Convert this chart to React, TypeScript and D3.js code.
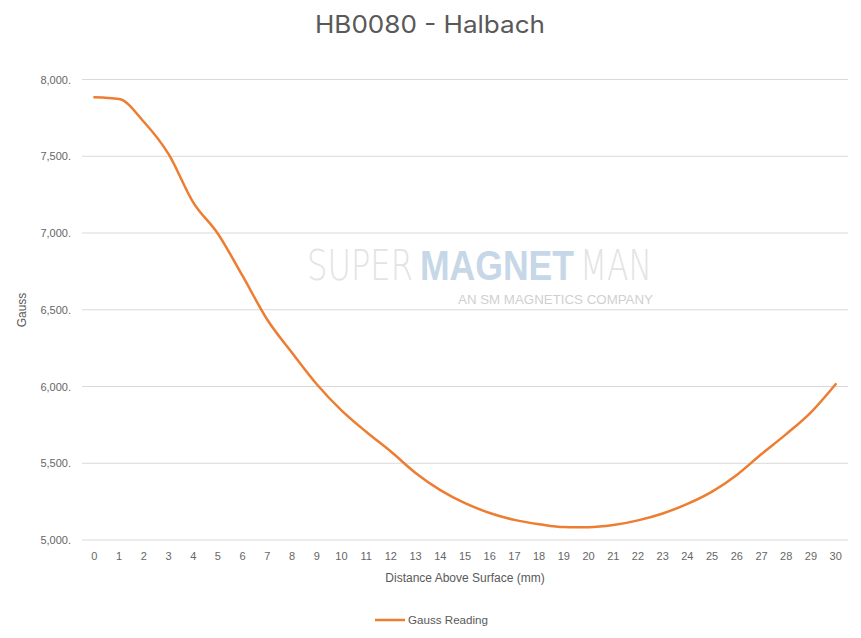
import React, { useLayoutEffect, useRef, useState } from "react";
import * as d3 from "d3";

const distances: number[] = Array.from({ length: 31 }, (_, i) => i);
const gaussValues: number[] = [
  7884, 7873, 7725, 7515, 7200, 6995, 6720, 6435, 6220, 6015,
  5845, 5705, 5576, 5437, 5325, 5240, 5176, 5131, 5103, 5084,
  5083, 5097, 5128, 5173, 5235, 5315, 5424, 5560, 5690, 5832,
  6015,
];
const yTicks: number[] = [5000, 5500, 6000, 6500, 7000, 7500, 8000];
const watermarkWords: string[] = ["SUPER", "MAGNET", "MAN"];

const W = 861;
const H = 638;
const M = { left: 82, right: 13, top: 79.5, bottom: 98 };
const FONT = "'Liberation Sans', Arial, sans-serif";

const wmSpec = [
  { x: 307, w: 106, fill: "#e3e3e3", weight: 200 as any, family: "'DejaVu Sans', sans-serif" },
  { x: 420, w: 154, fill: "#c6d7e7", weight: "bold" as any, family: "'Liberation Sans', sans-serif" },
  { x: 580, w: 72, fill: "#e3e3e3", weight: 200 as any, family: "'DejaVu Sans', sans-serif" },
];

export default function App() {
  const refs = useRef<(SVGTextElement | null)[]>([]);
  const [scales, setScales] = useState<number[]>([0.78, 0.85, 0.77]);
  useLayoutEffect(() => {
    const s = refs.current.map((el, i) => {
      if (!el) return scales[i];
      const len = el.getComputedTextLength();
      return len > 0 ? wmSpec[i].w / len : scales[i];
    });
    setScales(s);
    // eslint-disable-next-line
  }, []);

  const x = d3
    .scaleBand<number>()
    .domain(distances)
    .range([M.left, W - M.right])
    .paddingInner(0)
    .paddingOuter(0);
  const y = d3
    .scaleLinear()
    .domain([5000, 8000])
    .range([H - M.bottom, M.top]);
  const cx = (d: number) => (x(d) as number) + x.bandwidth() / 2;
  const line = d3
    .line<number>()
    .x((_, i) => cx(distances[i]))
    .y((v) => y(v))
    .curve(d3.curveMonotoneX);
  const fmt = (v: number) => d3.format(",")(v) + ".";

  return (
    <svg
      width={W}
      height={H}
      style={{ position: "absolute", left: 0, top: 0, background: "#fff" }}
      fontFamily={FONT}
    >
      <rect width={W} height={H} fill="#fff" />
      <text
        x={430}
        y={33}
        textAnchor="middle"
        fontSize={24}
        fill="#595959"
        fontFamily="Inter, 'Liberation Sans', sans-serif"
        textLength={230}
        lengthAdjust="spacingAndGlyphs"
      >
        HB0080 - Halbach
      </text>
      {yTicks.map((t) => (
        <g key={t}>
          <line
            x1={M.left}
            x2={W - M.right}
            y1={y(t)}
            y2={y(t)}
            stroke="#d9d9d9"
            strokeWidth={1}
          />
          <text
            x={71}
            y={y(t) + 4}
            textAnchor="end"
            fontSize={11}
            fill="#666666"
          >
            {fmt(t)}
          </text>
        </g>
      ))}
      {/* watermark */}
      <g>
        {watermarkWords.map((w, i) => (
          <g key={w} transform={`translate(${wmSpec[i].x},280) scale(${scales[i]},1)`}>
            <text
              ref={(el) => {
                refs.current[i] = el;
              }}
              x={0}
              y={0}
              fontSize={42}
              fill={wmSpec[i].fill}
              fontWeight={wmSpec[i].weight}
              fontFamily={wmSpec[i].family}
            >
              {w}
            </text>
          </g>
        ))}
        <text x={458} y={304} fontSize={12.5} fill="#d0d0d0" textLength={195} lengthAdjust="spacingAndGlyphs" fontFamily="'Liberation Sans', sans-serif">
          AN SM MAGNETICS COMPANY
        </text>
      </g>
      {distances.map((d) => (
        <text
          key={d}
          x={cx(d)}
          y={560}
          textAnchor="middle"
          fontSize={11}
          fill="#666666"
        >
          {d}
        </text>
      ))}
      <text x={465} y={582} textAnchor="middle" fontSize={12} fill="#595959">
        Distance Above Surface (mm)
      </text>
      <text
        transform={`translate(26,${310}) rotate(-90)`}
        textAnchor="middle"
        fontSize={12}
        fill="#595959"
      >
        Gauss
      </text>
      <path
        d={line(gaussValues) || ""}
        fill="none"
        stroke="#ed7d31"
        strokeWidth={2.5}
        strokeLinejoin="round"
        strokeLinecap="round"
      />
      <line x1={375} x2={405} y1={620} y2={620} stroke="#ed7d31" strokeWidth={2.5} />
      <text x={408} y={624} fontSize={11} fill="#595959" textLength={80} lengthAdjust="spacingAndGlyphs">
        Gauss Reading
      </text>
    </svg>
  );
}
